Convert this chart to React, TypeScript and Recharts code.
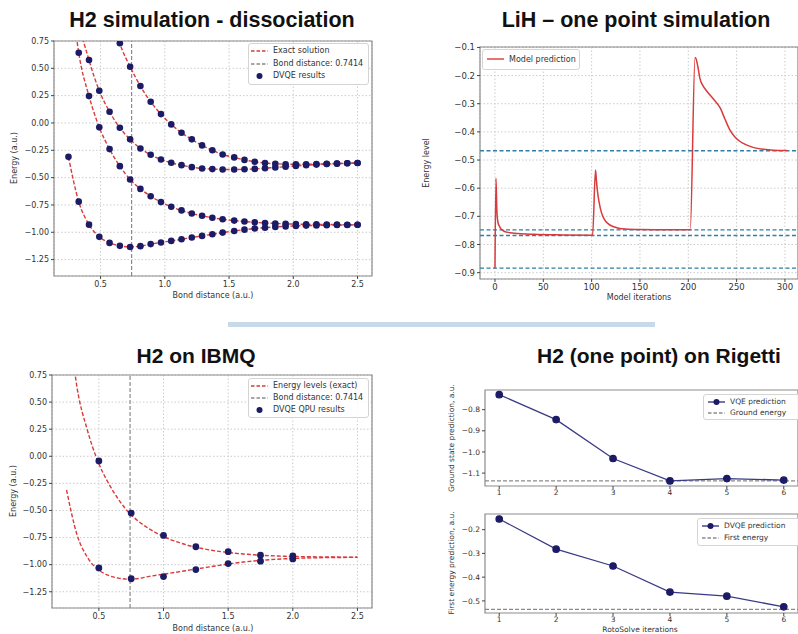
import React from "react"
import {
  ComposedChart,
  LineChart,
  Line,
  Scatter,
  XAxis,
  YAxis,
  CartesianGrid,
  ReferenceLine,
  ReferenceArea,
} from "recharts"

const RED = "#d93a3a"
const NAVY = "#1b1b66"
const NAVY_LINE = "#3a3a86"
const GREY = "#8a8a8a"
const BLUE = "#2f7fa5"
const FRAME = "#8c8c8c"
const GRID = "#cccccc"
const TICK_FONT = "'DejaVu Sans', sans-serif"
const TITLE_FONT = "'Liberation Sans', Arial, sans-serif"

// H2 dissociation, simulator: bond distance and the four energy levels
const bondX = [0.25, 0.33, 0.41, 0.49, 0.57, 0.65, 0.73, 0.81, 0.89, 0.97, 1.05, 1.13, 1.21, 1.29, 1.37, 1.45, 1.54, 1.62, 1.7, 1.78, 1.86, 1.94, 2.02, 2.1, 2.18, 2.26, 2.34, 2.42, 2.5]
const groundLevel = [-0.31, -0.72, -0.93, -1.042, -1.097, -1.124, -1.134, -1.127, -1.108, -1.093, -1.079, -1.064, -1.048, -1.033, -1.018, -1.003, -0.988, -0.976, -0.966, -0.958, -0.951, -0.946, -0.942, -0.939, -0.937, -0.935, -0.934, -0.933, -0.932]
const firstLevel = [1.45, 0.643, 0.246, -0.04, -0.239, -0.395, -0.517, -0.603, -0.67, -0.724, -0.766, -0.8, -0.828, -0.849, -0.867, -0.881, -0.893, -0.902, -0.909, -0.915, -0.919, -0.923, -0.925, -0.927, -0.928, -0.929, -0.93, -0.931, -0.931]
const secondLevel = [1.7, 0.95, 0.576, 0.295, 0.103, -0.044, -0.15, -0.233, -0.291, -0.334, -0.364, -0.386, -0.404, -0.416, -0.422, -0.425, -0.426, -0.424, -0.42, -0.414, -0.407, -0.4, -0.393, -0.387, -0.381, -0.376, -0.372, -0.369, -0.366]
const thirdLevel = [5.0, 3.4, 2.3, 1.6, 1.1, 0.729, 0.515, 0.338, 0.194, 0.081, -0.013, -0.09, -0.15, -0.205, -0.25, -0.288, -0.315, -0.338, -0.355, -0.366, -0.373, -0.377, -0.378, -0.378, -0.376, -0.374, -0.371, -0.368, -0.366]
const bondLength = 0.7414

// H2 on IBMQ: QPU results
const qpuX = [0.5, 0.75, 1.0, 1.25, 1.5, 1.75, 2.0]
const qpuGround = [-1.03, -1.13, -1.11, -1.045, -0.99, -0.968, -0.947]
const qpuExcited = [-0.043, -0.524, -0.73, -0.835, -0.88, -0.913, -0.92]

// LiH one point
const lihIter = [0, 1, 2, 3, 5, 8, 12, 20, 40, 70, 101, 104, 105, 106, 108, 110, 113, 117, 122, 128, 135, 150, 180, 202, 207, 208, 210, 212, 215, 219, 226, 233, 238, 243, 248, 254, 260, 267, 278, 288, 302]
const lihEnergy = [-0.884, -0.565, -0.685, -0.72, -0.738, -0.75, -0.756, -0.76, -0.764, -0.766, -0.767, -0.535, -0.575, -0.61, -0.655, -0.685, -0.71, -0.726, -0.736, -0.742, -0.745, -0.747, -0.748, -0.748, -0.136, -0.14, -0.17, -0.21, -0.235, -0.255, -0.283, -0.315, -0.355, -0.393, -0.417, -0.435, -0.446, -0.455, -0.462, -0.465, -0.466]
const lihLevels = [-0.467, -0.748, -0.768, -0.884]

// H2 one point on Rigetti
const rotoIter = [1, 2, 3, 4, 5, 6]
const vqeGround = [-0.729, -0.847, -1.031, -1.137, -1.126, -1.133]
const dvqeFirst = [-0.155, -0.282, -0.353, -0.463, -0.48, -0.525]
const groundEnergy = -1.137
const firstEnergy = -0.536

const bondTicks = [0.5, 1, 1.5, 2, 2.5]
const energyTicks = [0.75, 0.5, 0.25, 0, -0.25, -0.5, -0.75, -1, -1.25]

const fmt = (digits: number) => (v: number) => v.toFixed(digits).replace("-", "\u2212")
const tickStyle = (size: number) => ({ fontSize: size, fill: "#333", fontFamily: TICK_FONT })
const navyDot = (r: number) => (p: any) => <circle cx={p.cx} cy={p.cy} r={r} fill={NAVY} />

const dissociationRows = bondX.map((x, i) => ({ x, a: groundLevel[i], b: firstLevel[i], c: secondLevel[i], d: thirdLevel[i] }))
const dvqePoints = [groundLevel, firstLevel, secondLevel, thirdLevel]
  .flatMap((level) => level.map((y, i) => ({ x: bondX[i], y })))
  .filter((p) => p.y <= 0.75)
const qpuPoints = [qpuGround, qpuExcited].flatMap((level) => level.map((y, i) => ({ x: qpuX[i], y })))
const lihRows = lihIter.map((it, i) => ({ it, e: lihEnergy[i] }))
const rotoRows = rotoIter.map((it, i) => ({ it, g: vqeGround[i], f: dvqeFirst[i] }))

type Key = { label: string; mark: "dash" | "line" | "dot" | "lineDot"; color: string }

function LegendBox({ items, left, top, width, row, size, pad }: { items: Key[]; left: number; top: number; width: number; row: number; size: number; pad: number }) {
  return (
    <div
      style={{
        position: "absolute",
        left,
        top,
        width,
        boxSizing: "border-box",
        border: "1px solid #d4d4d4",
        borderRadius: 3,
        background: "rgba(255,255,255,0.85)",
        padding: `1px ${pad}px`,
        fontFamily: TICK_FONT,
        fontSize: size,
        color: "#333",
        lineHeight: `${row}px`,
      }}
    >
      {items.map((it) => (
        <div key={it.label} style={{ display: "flex", alignItems: "center", whiteSpace: "nowrap", height: row }}>
          <svg width={17} height={8} style={{ marginRight: 5, flex: "none" }}>
            {it.mark !== "dot" && (
              <line x1={0} x2={17} y1={4} y2={4} stroke={it.color} strokeWidth={1.4} strokeDasharray={it.mark === "dash" ? "3.5 2" : undefined} />
            )}
            {(it.mark === "dot" || it.mark === "lineDot") && <circle cx={8.5} cy={4} r={3} fill={NAVY} />}
          </svg>
          {it.label}
        </div>
      ))}
    </div>
  )
}

function Title({ text, cx, baseline, size }: { text: string; cx: number; baseline: number; size: number }) {
  return (
    <div
      style={{
        position: "absolute",
        left: cx,
        top: baseline - size * 0.8465,
        transform: "translateX(-50%)",
        fontFamily: TITLE_FONT,
        fontWeight: 700,
        fontSize: size,
        lineHeight: 1,
        whiteSpace: "nowrap",
        color: "#111",
      }}
    >
      {text}
    </div>
  )
}

function AxisLabel({ text, cx, cy, vertical, size = 8 }: { text: string; cx: number; cy: number; vertical?: boolean; size?: number }) {
  return (
    <div
      style={{
        position: "absolute",
        left: cx,
        top: cy,
        transform: `translate(-50%, -50%)${vertical ? " rotate(-90deg)" : ""}`,
        fontFamily: TICK_FONT,
        fontSize: size,
        color: "#333",
        whiteSpace: "nowrap",
        lineHeight: 1,
      }}
    >
      {text}
    </div>
  )
}

function Frame({ x, y }: { x: number[]; y: number[] }) {
  return <ReferenceArea x1={x[0]} x2={x[1]} y1={y[0]} y2={y[1]} fill="none" stroke={FRAME} strokeWidth={1.2} ifOverflow="visible" />
}

function DissociationChart() {
  const xd = [0.1375, 2.6125]
  const yd = [-1.4, 0.75]
  return (
    <ComposedChart width={380} height={310} data={dissociationRows} margin={{ top: 41, right: 8, bottom: 0, left: 0 }}>
      <CartesianGrid stroke={GRID} strokeDasharray="1.5 2" />
      <XAxis type="number" dataKey="x" domain={xd} allowDataOverflow ticks={bondTicks} tickFormatter={fmt(1)} height={34} axisLine={false} tickSize={3} tick={tickStyle(8)} tickLine={{ stroke: "#444" }} />
      <YAxis type="number" domain={yd} allowDataOverflow ticks={energyTicks} tickFormatter={fmt(2)} width={54} axisLine={false} tickSize={3} tick={tickStyle(8)} tickLine={{ stroke: "#444" }} />
      <ReferenceLine x={bondLength} stroke={GREY} strokeWidth={1.2} strokeDasharray="4 2" />
      <Scatter data={dvqePoints} dataKey="y" shape={navyDot(3.3)} isAnimationActive={false} />
      {["a", "b", "c", "d"].map((k) => (
        <Line key={k} dataKey={k} type="monotone" stroke={RED} strokeWidth={1.4} strokeDasharray="4 2" dot={false} isAnimationActive={false} />
      ))}
      <Frame x={xd} y={yd} />
    </ComposedChart>
  )
}

function IbmqChart() {
  const xd = [0.1375, 2.6125]
  const yd = [-1.4, 0.75]
  return (
    <ComposedChart width={380} height={300} data={dissociationRows} margin={{ top: 35, right: 8, bottom: 0, left: 0 }}>
      <CartesianGrid stroke={GRID} strokeDasharray="1.5 2" />
      <XAxis type="number" dataKey="x" domain={xd} allowDataOverflow ticks={bondTicks} tickFormatter={fmt(1)} height={32} axisLine={false} tickSize={3} tick={tickStyle(8)} tickLine={{ stroke: "#444" }} />
      <YAxis type="number" domain={yd} allowDataOverflow ticks={energyTicks} tickFormatter={fmt(2)} width={52} axisLine={false} tickSize={3} tick={tickStyle(8)} tickLine={{ stroke: "#444" }} />
      <ReferenceLine x={bondLength} stroke={GREY} strokeWidth={1.2} strokeDasharray="4 2" />
      {["a", "b"].map((k) => (
        <Line key={k} dataKey={k} type="monotone" stroke={RED} strokeWidth={1.4} strokeDasharray="4 2" dot={false} isAnimationActive={false} />
      ))}
      <Scatter data={qpuPoints} dataKey="y" shape={navyDot(3.4)} isAnimationActive={false} />
      <Frame x={xd} y={yd} />
    </ComposedChart>
  )
}

function LihChart() {
  const xd = [-15.5, 313.5]
  const yd = [-0.9225, -0.0985]
  return (
    <LineChart width={378} height={310} data={lihRows} margin={{ top: 47, right: 0, bottom: 0, left: 0 }}>
      <CartesianGrid stroke={GRID} strokeDasharray="1.5 2" />
      <XAxis type="number" dataKey="it" domain={xd} allowDataOverflow ticks={[0, 50, 100, 150, 200, 250, 300]} height={31} axisLine={false} tickSize={3} tick={tickStyle(8.5)} tickLine={{ stroke: "#444" }} />
      <YAxis type="number" domain={yd} allowDataOverflow ticks={[-0.1, -0.2, -0.3, -0.4, -0.5, -0.6, -0.7, -0.8, -0.9]} tickFormatter={fmt(1)} width={60} axisLine={false} tickSize={3} tick={tickStyle(8.5)} tickLine={{ stroke: "#444" }} />
      {lihLevels.map((v) => (
        <ReferenceLine key={v} y={v} stroke={BLUE} strokeWidth={1.4} strokeDasharray="4 2.5" />
      ))}
      <Line dataKey="e" type="monotone" stroke={RED} strokeWidth={1.5} dot={false} isAnimationActive={false} />
      <Frame x={xd} y={yd} />
    </LineChart>
  )
}

function RotoChart({ dataKey, yd, ticks, refY, height, top, xHeight }: { dataKey: string; yd: number[]; ticks: number[]; refY: number; height: number; top: number; xHeight: number }) {
  const xd = [0.75, 6.25]
  return (
    <LineChart width={378} height={height} data={rotoRows} margin={{ top, right: 0, bottom: 0, left: 0 }}>
      <XAxis type="number" dataKey="it" domain={xd} allowDataOverflow ticks={rotoIter} height={xHeight} axisLine={false} tickSize={3} tickMargin={1} tick={tickStyle(7.5)} tickLine={{ stroke: "#444" }} />
      <YAxis type="number" domain={yd} allowDataOverflow ticks={ticks} tickFormatter={fmt(1)} width={65} axisLine={false} tickSize={3} tick={tickStyle(7.5)} tickLine={{ stroke: "#444" }} />
      <ReferenceLine y={refY} stroke={GREY} strokeWidth={1.2} strokeDasharray="4 2" />
      <Line dataKey={dataKey} type="linear" stroke={NAVY_LINE} strokeWidth={1.3} dot={{ r: 3.2, fill: NAVY, stroke: NAVY }} isAnimationActive={false} />
      <Frame x={xd} y={yd} />
    </LineChart>
  )
}

const at = (left: number, top: number): React.CSSProperties => ({ position: "absolute", left, top })

export default function App() {
  return (
    <div style={{ position: "absolute", left: 0, top: 0, width: 798, height: 634, overflow: "hidden", background: "#fff" }}>
      <Title text="H2 simulation - dissociation" cx={212} baseline={28} size={21.5} />
      <Title text="LiH – one point simulation" cx={636} baseline={28} size={21.5} />
      <Title text="H2 on IBMQ" cx={196} baseline={363} size={21} />
      <Title text="H2 (one point) on Rigetti" cx={659} baseline={363} size={21} />

      <div style={{ ...at(228, 322), width: 427, height: 5, background: "#c9d9ec" }} />

      <div style={at(0, 0)}>
        <DissociationChart />
      </div>
      <AxisLabel text="Energy (a.u.)" cx={15} cy={158} vertical />
      <AxisLabel text="Bond distance (a.u.)" cx={213} cy={296} />
      <LegendBox
        left={248}
        top={43}
        width={121}
        row={12.5}
        size={8}
        pad={2}
        items={[
          { label: "Exact solution", mark: "dash", color: RED },
          { label: "Bond distance: 0.7414", mark: "dash", color: GREY },
          { label: "DVQE results", mark: "dot", color: NAVY },
        ]}
      />

      <div style={at(420, 0)}>
        <LihChart />
      </div>
      <AxisLabel text="Energy level" cx={427} cy={163} vertical />
      <AxisLabel text="Model iterations" cx={639} cy={298} />
      <LegendBox left={482} top={48.5} width={98} row={17} size={8} pad={4} items={[{ label: "Model prediction", mark: "line", color: RED }]} />

      <div style={at(0, 340)}>
        <IbmqChart />
      </div>
      <AxisLabel text="Energy (a.u.)" cx={14} cy={491} vertical />
      <AxisLabel text="Bond distance (a.u.)" cx={213} cy={629} />
      <LegendBox
        left={248}
        top={378}
        width={121}
        row={12}
        size={8}
        pad={2}
        items={[
          { label: "Energy levels (exact)", mark: "dash", color: RED },
          { label: "Bond distance: 0.7414", mark: "dash", color: GREY },
          { label: "DVQE QPU results", mark: "dot", color: NAVY },
        ]}
      />

      <div style={at(420, 370)}>
        <RotoChart dataKey="g" yd={[-1.161, -0.707]} ticks={[-0.8, -0.9, -1.0, -1.1]} refY={groundEnergy} height={140} top={20} xHeight={24} />
      </div>
      <AxisLabel text="Ground state prediction, a.u." cx={452} cy={438} vertical size={7.5} />
      <LegendBox
        left={703}
        top={394}
        width={100}
        row={11}
        size={7.5}
        pad={4}
        items={[
          { label: "VQE prediction", mark: "lineDot", color: NAVY_LINE },
          { label: "Ground energy", mark: "dash", color: GREY },
        ]}
      />

      <div style={at(420, 500)}>
        <RotoChart dataKey="f" yd={[-0.551, -0.134]} ticks={[-0.2, -0.3, -0.4, -0.5]} refY={firstEnergy} height={134} top={14} xHeight={21} />
      </div>
      <AxisLabel text="First energy prediction, a.u." cx={452} cy={563} vertical size={7.5} />
      <AxisLabel text="RotoSolve iterations" cx={640} cy={630} size={7.5} />
      <LegendBox
        left={697}
        top={518}
        width={105}
        row={12}
        size={7.5}
        pad={4}
        items={[
          { label: "DVQE prediction", mark: "lineDot", color: NAVY_LINE },
          { label: "First energy", mark: "dash", color: GREY },
        ]}
      />
    </div>
  )
}
